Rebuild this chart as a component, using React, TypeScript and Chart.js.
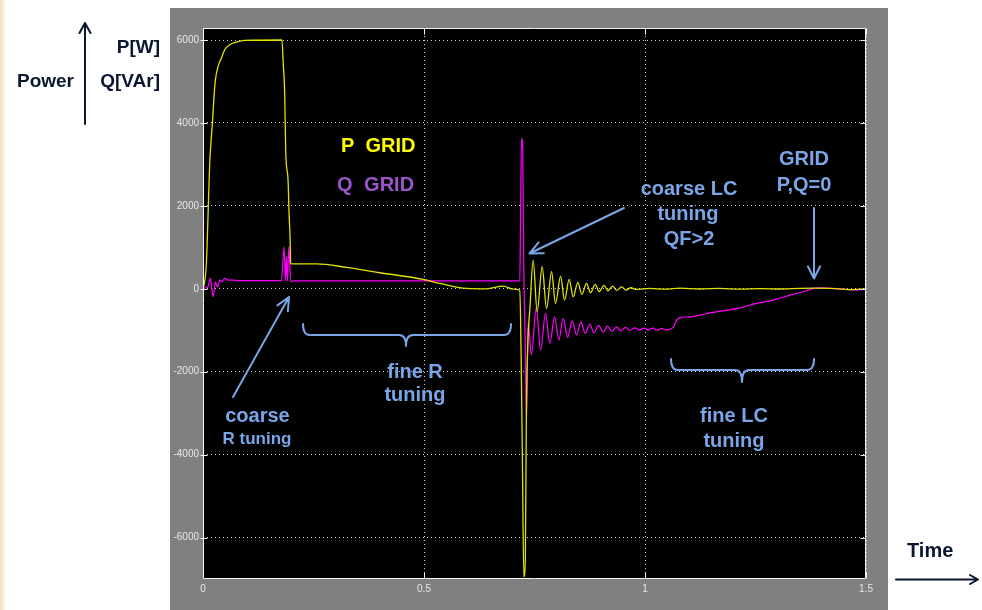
import React, { useEffect, useRef } from "react";
import { Chart, registerables } from "chart.js";

Chart.register(...registerables);

// ---- data ----
const pTime = [0, 0.0016, 0.0077, 0.0113, 0.0152, 0.019, 0.0213, 0.0249, 0.0281, 0.034, 0.0416, 0.0491, 0.0604, 0.0756, 0.0944, 0.1788, 0.1811, 0.185, 0.1872, 0.1924, 0.1947, 0.1969, 0.1985, 0.2008, 0.2567, 0.3246, 0.4, 0.498, 0.5358, 0.5962, 0.6415, 0.679, 0.7017, 0.7168, 0.7198, 0.7225, 0.7259, 0.7293, 0.7316, 0.735, 0.7395, 0.747, 0.756, 0.7673, 0.7773, 0.7886, 0.7976, 0.809, 0.818, 0.8284, 0.8375, 0.8481, 0.8572, 0.8678, 0.8769, 0.8873, 0.8963, 0.907, 0.916, 0.9267, 0.9357, 0.947, 0.9568, 0.9681, 0.9794, 1.011, 1.045, 1.079, 1.124, 1.169, 1.214, 1.26, 1.305, 1.35, 1.384, 1.418, 1.464, 1.5];
const pValue = [0, 50, 620, 1740, 3030, 3670, 3990, 4640, 5040, 5360, 5560, 5765, 5885, 5950, 5990, 6000, 5520, 4640, 3280, 2630, 1830, 1260, 610, 600, 600, 517, 387, 227, 130, 10, 0, 65, -10, -30, -1650, -4000, -6950, -6500, -3000, -1300, -500, 693, -555, 531, -473, 411, -353, 307, -273, 227, -193, 155, -135, 130, -97, 106, -72, 82, -48, 65, -39, 48, -31, 25, -15, 10, -10, 15, -5, 10, -10, 5, -5, 10, 15, 10, -20, 0];

const qTime = [0, 0.0113, 0.0167, 0.0204, 0.0231, 0.0281, 0.0326, 0.0378, 0.043, 0.0491, 0.0566, 0.0679, 0.0831, 0.1775, 0.1833, 0.1865, 0.1888, 0.191, 0.194, 0.1962, 0.1985, 0.2037, 0.4452, 0.7168, 0.7182, 0.7207, 0.7232, 0.7255, 0.7293, 0.732, 0.7356, 0.7429, 0.7542, 0.7637, 0.775, 0.7847, 0.7954, 0.8051, 0.8149, 0.8248, 0.8352, 0.8452, 0.8549, 0.8647, 0.8753, 0.8843, 0.895, 0.9054, 0.9153, 0.9251, 0.9357, 0.9454, 0.9561, 0.9658, 0.9771, 0.9869, 0.9975, 1.0072, 1.0186, 1.0269, 1.0376, 1.0489, 1.0638, 1.0715, 1.079, 1.1016, 1.1242, 1.1469, 1.177, 1.2148, 1.2526, 1.2902, 1.328, 1.3658, 1.38, 1.3958, 1.426, 1.4563, 1.4789, 1.5];
const qValue = [10, 48, 251, -31, -193, 169, 48, 210, 169, 251, 210, 210, 195, 195, 1014, 195, 773, 180, 1014, 613, 169, 190, 190, 190, 1500, 3630, 3500, 700, -1500, -3200, -800, -1600, -450, -1480, -594, -1318, -676, -1239, -715, -1174, -773, -1118, -797, -1077, -853, -1062, -884, -1046, -901, -1029, -918, -1014, -933, -1005, -942, -997, -949, -990, -949, -1000, -960, -990, -933, -756, -700, -676, -635, -580, -531, -459, -353, -273, -152, -48, 5, 24, 10, -14, -31, -7];

const xTicks = [0, 0.5, 1, 1.5];
const xTickLabels = ["0", "0.5", "1", "1.5"];
const yTicks = [-6000, -4000, -2000, 0, 2000, 4000, 6000];
const yTickLabels = ["-6000", "-4000", "-2000", "0", "2000", "4000", "6000"];

const seriesNames = ["P GRID", "Q GRID"];

// ---- styling ----
const BLUE = "#7aa6e8";
const NAVY = "#0b1630";
const FONT = '"Liberation Sans", Arial, Helvetica, sans-serif';

const scopePlugin = {
  id: "scopeFrame",
  beforeDraw(chart: any) {
    const { ctx, chartArea: a } = chart;
    ctx.save();
    ctx.fillStyle = "#000000";
    ctx.fillRect(a.left, a.top, a.right - a.left, a.bottom - a.top);
    ctx.restore();
  },
  afterDatasetsDraw(chart: any) {
    const { ctx, chartArea: a, scales } = chart;
    ctx.save();
    ctx.strokeStyle = "#f4f4f4";
    ctx.lineWidth = 1;
    const L = Math.round(a.left) + 0.5;
    const R = Math.round(a.right) - 0.5;
    const T = Math.round(a.top) + 0.5;
    const B = Math.round(a.bottom) - 0.5;
    ctx.beginPath();
    ctx.moveTo(L, T);
    ctx.lineTo(R, T);
    ctx.lineTo(R, B);
    ctx.lineTo(L, B);
    ctx.closePath();
    ctx.stroke();
    ctx.beginPath();
    xTicks.forEach((v) => {
      const px = Math.round(scales.x.getPixelForValue(v)) + 0.5;
      ctx.moveTo(px, B);
      ctx.lineTo(px, B - 6);
      ctx.moveTo(px, T);
      ctx.lineTo(px, T + 6);
    });
    yTicks.forEach((v) => {
      const py = Math.round(scales.y.getPixelForValue(v)) + 0.5;
      ctx.moveTo(L - 3, py);
      ctx.lineTo(L + 4, py);
      ctx.moveTo(R, py);
      ctx.lineTo(R - 5, py);
    });
    ctx.stroke();
    ctx.restore();
  },
};

function arrowPath(x1: number, y1: number, x2: number, y2: number, len: number, half: number) {
  const ang = Math.atan2(y2 - y1, x2 - x1);
  const bx = x2 - len * Math.cos(ang);
  const by = y2 - len * Math.sin(ang);
  const px = -Math.sin(ang) * half;
  const py = Math.cos(ang) * half;
  return `M${x1},${y1} L${x2},${y2} M${bx + px},${by + py} L${x2},${y2} L${bx - px},${by - py}`;
}

function bracePath(x1: number, x2: number, top: number, mid: number, tip: number, xc: number) {
  return `M${x1},${top} Q${x1},${mid} ${x1 + 7},${mid} L${xc - 7},${mid} Q${xc},${mid} ${xc},${tip} Q${xc},${mid} ${xc + 7},${mid} L${x2 - 7},${mid} Q${x2},${mid} ${x2},${top}`;
}

type LabelProps = {
  x: number;
  baseline: number;
  size: number;
  color: string;
  align?: "left" | "center" | "right";
  wordSpacing?: number;
  children: React.ReactNode;
};

function Label({ x, baseline, size, color, align = "left", wordSpacing, children }: LabelProps) {
  const top = baseline - 0.8465 * size;
  const tx = align === "center" ? "translateX(-50%)" : align === "right" ? "translateX(-100%)" : "none";
  return (
    <div
      style={{
        position: "absolute",
        left: x,
        top,
        fontFamily: FONT,
        fontWeight: "bold",
        fontSize: size,
        lineHeight: `${size}px`,
        color,
        whiteSpace: "nowrap",
        transform: tx,
        wordSpacing: wordSpacing,
      }}
    >
      {children}
    </div>
  );
}

export default function App() {
  const canvasRef = useRef<HTMLCanvasElement>(null);

  useEffect(() => {
    const canvas = canvasRef.current;
    if (!canvas) return;
    const chart = new Chart(canvas, {
      type: "line",
      data: {
        datasets: [
          {
            label: seriesNames[0],
            data: pTime.map((t, i) => ({ x: t, y: pValue[i] })),
            borderColor: "#e2e200",
            borderWidth: 1.3,
            pointRadius: 0,
            cubicInterpolationMode: "monotone",
            fill: false,
          },
          {
            label: seriesNames[1],
            data: qTime.map((t, i) => ({ x: t, y: qValue[i] })),
            borderColor: "#ff00ff",
            borderWidth: 1.2,
            pointRadius: 0,
            cubicInterpolationMode: "monotone",
            fill: false,
          },
        ],
      },
      options: {
        responsive: false,
        animation: false,
        devicePixelRatio: 1,
        layout: { padding: { left: 0, top: 28, right: 116, bottom: 0 } },
        plugins: {
          legend: { display: false },
          tooltip: { enabled: false },
        },
        scales: {
          x: {
            type: "linear",
            min: 0,
            max: 1.5,
            afterBuildTicks: (scale: any) => {
              scale.ticks = xTicks.map((v) => ({ value: v }));
            },
            afterFit: (scale: any) => {
              scale.height = 31;
            },
            grid: { color: "rgba(225,225,225,0.9)", lineWidth: 1, drawTicks: false },
            border: { display: false, dash: [1, 3] },
            ticks: {
              color: "#e6e6e6",
              font: { family: FONT, size: 10 },
              padding: 4,
              maxRotation: 0,
              autoSkip: false,
              callback: (value: any) => xTickLabels[xTicks.indexOf(Number(value))] ?? "",
            },
          },
          y: {
            type: "linear",
            min: -7000,
            max: 6290,
            afterBuildTicks: (scale: any) => {
              scale.ticks = yTicks.map((v) => ({ value: v }));
            },
            afterFit: (scale: any) => {
              scale.width = 203;
            },
            grid: { color: "rgba(225,225,225,0.9)", lineWidth: 1, drawTicks: false },
            border: { display: false, dash: [1, 3] },
            ticks: {
              color: "#e6e6e6",
              font: { family: FONT, size: 10 },
              padding: 4,
              autoSkip: false,
              callback: (value: any) => yTickLabels[yTicks.indexOf(Number(value))] ?? "",
            },
          },
        },
      } as any,
      plugins: [scopePlugin],
    });
    return () => chart.destroy();
  }, []);

  return (
    <div
      style={{
        position: "absolute",
        left: 0,
        top: 0,
        width: 982,
        height: 610,
        overflow: "hidden",
        background: "#ffffff",
      }}
    >
      <div
        style={{
          position: "absolute",
          left: 0,
          top: 0,
          width: 5,
          height: 610,
          background: "linear-gradient(90deg, #f3e2bd, #fbf3e2)",
        }}
      />
      <div style={{ position: "absolute", left: 170, top: 8, width: 718, height: 602, background: "#808080" }} />
      <canvas ref={canvasRef} width={982} height={610} style={{ position: "absolute", left: 0, top: 0 }} />
      <svg
        width={982}
        height={610}
        style={{ position: "absolute", left: 0, top: 0, pointerEvents: "none" }}
      >
        <g fill="none" strokeLinecap="round" strokeLinejoin="round">
          <path d={arrowPath(85, 124, 85, 23, 10, 5.5)} stroke={NAVY} strokeWidth={2} />
          <path d={arrowPath(896, 579.5, 978, 579.5, 8, 4.5)} stroke={NAVY} strokeWidth={2} />
          <path d={arrowPath(233, 397, 289, 297, 13, 6)} stroke={BLUE} strokeWidth={2} />
          <path d={arrowPath(624, 208, 529.5, 253.5, 13, 6)} stroke={BLUE} strokeWidth={2} />
          <path d={arrowPath(814, 208, 814, 278.5, 12, 6)} stroke={BLUE} strokeWidth={2} />
          <path d={bracePath(303, 511, 324, 335, 346, 406)} stroke={BLUE} strokeWidth={2} />
          <path d={bracePath(671, 814, 359, 370, 382, 742)} stroke={BLUE} strokeWidth={2} />
        </g>
      </svg>

      <Label x={160} baseline={53} size={19} color={NAVY} align="right">P[W]</Label>
      <Label x={17} baseline={87} size={19} color={NAVY}>Power</Label>
      <Label x={160} baseline={87} size={19} color={NAVY} align="right">Q[VAr]</Label>
      <Label x={907} baseline={557} size={20} color={NAVY}>Time</Label>

      <Label x={341} baseline={152} size={20} color="#ffff00" wordSpacing={6}>P GRID</Label>
      <Label x={337} baseline={191} size={20} color="#9b55c9" wordSpacing={6}>Q GRID</Label>

      <Label x={689} baseline={195} size={20} color={BLUE} align="center">coarse LC</Label>
      <Label x={688} baseline={220} size={20} color={BLUE} align="center">tuning</Label>
      <Label x={689} baseline={245} size={20} color={BLUE} align="center">QF&gt;2</Label>

      <Label x={804} baseline={165} size={20} color={BLUE} align="center">GRID</Label>
      <Label x={804} baseline={191} size={20} color={BLUE} align="center">P,Q=0</Label>

      <Label x={415} baseline={378} size={20} color={BLUE} align="center">fine R</Label>
      <Label x={415} baseline={401} size={20} color={BLUE} align="center">tuning</Label>

      <Label x={734} baseline={422} size={20} color={BLUE} align="center">fine LC</Label>
      <Label x={734} baseline={447} size={20} color={BLUE} align="center">tuning</Label>

      <Label x={257.5} baseline={422} size={20} color={BLUE} align="center">coarse</Label>
      <Label x={257} baseline={444} size={17} color={BLUE} align="center">R tuning</Label>
    </div>
  );
}
